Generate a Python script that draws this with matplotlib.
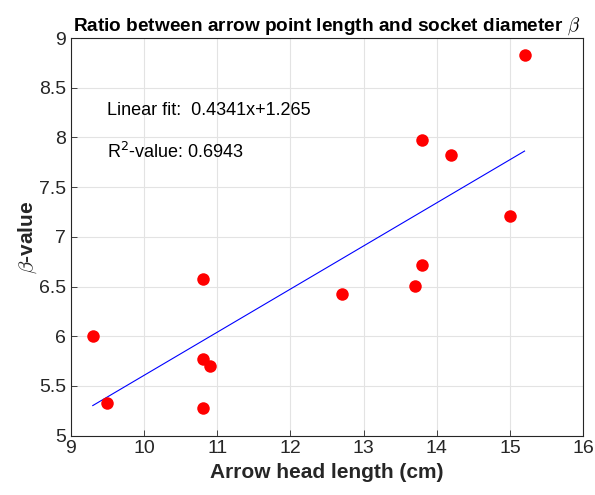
import numpy as np
import matplotlib.pyplot as plt

plt.rcParams['font.family'] = ['Liberation Sans', 'DejaVu Sans']
plt.rcParams['mathtext.fontset'] = 'cm'

head_length = [9.3, 9.5, 10.8, 10.8, 10.9, 10.8, 12.7, 13.7, 13.8, 13.8, 14.2, 15.0, 15.2]
beta = [6.0, 5.33, 6.58, 5.77, 5.70, 5.28, 6.42, 6.51, 6.72, 7.97, 7.82, 7.21, 8.83]
slope = 0.4341
intercept = 1.265
r2 = 0.6943

fig = plt.figure(figsize=(5.95, 4.95), dpi=100)
ax = fig.add_axes([0.119, 0.12, 0.861, 0.803])

xfit = np.array([min(head_length), max(head_length)])
ax.plot(xfit, slope * xfit + intercept, color='blue', lw=0.8)
ax.plot(head_length, beta, 'o', color='red', markersize=9, markeredgewidth=0)

ax.set_xlim(9, 16)
ax.set_ylim(5, 9)
ax.set_xticks(np.arange(9, 17, 1))
ax.set_yticks(np.arange(5, 9.01, 0.5))
ax.set_yticklabels(['5', '5.5', '6', '6.5', '7', '7.5', '8', '8.5', '9'])
ax.grid(True, color='#e3e3e3', lw=0.8)
ax.set_axisbelow(True)
ax.tick_params(labelsize=14, colors='#262626', direction='in', length=4, width=0.6)
for s in ax.spines.values():
    s.set_color('#262626')
    s.set_linewidth(0.8)

ax.text(9.5, 8.27, 'Linear fit:  %.4fx+%.3f' % (slope, intercept), fontsize=13, va='center')
ax.text(9.5, 7.85, 'R$^2$-value: %.4f' % r2, fontsize=13, va='center',
        math_fontfamily='dejavusans')

ax.set_title(r'Ratio between arrow point length and socket diameter $\beta$',
             fontsize=13.7, fontweight='bold', pad=5)
ax.set_xlabel('Arrow head length (cm)', fontsize=15, fontweight='bold', color='#262626')
ax.set_ylabel(r'$\beta$-value', fontsize=15, fontweight='bold', color='#262626', labelpad=0)

fig.savefig('out.png', dpi=100)
